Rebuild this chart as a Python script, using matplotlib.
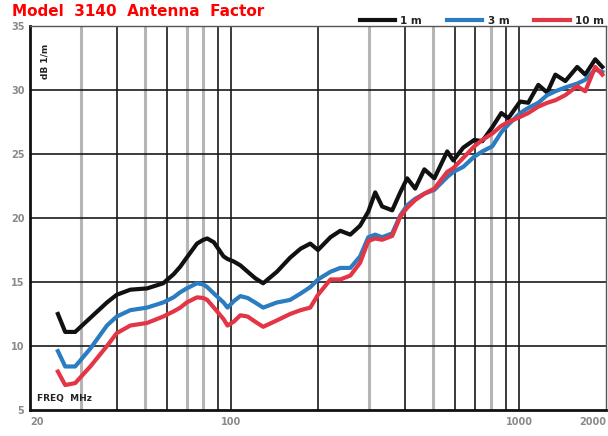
import matplotlib
matplotlib.use("Agg")
import matplotlib.pyplot as plt
from matplotlib.lines import Line2D

# ---- data ----
freq_mhz = [25, 26.5, 28.7, 32.4, 37, 40, 44.6, 51, 58, 63, 66.5, 70, 76, 80, 82.5, 87,
            94, 97, 102, 107.5, 114, 121, 129, 144, 160, 174, 188, 200, 221, 239, 259,
            280, 299, 316, 334, 362, 386, 408, 435, 468, 507, 562, 590, 639, 698, 744,
            806, 866, 916, 1007, 1074, 1164, 1250, 1334, 1445, 1589, 1694, 1835, 1942]

af_1m = [12.5, 11.1, 11.1, 12.2, 13.4, 14.0, 14.4, 14.5, 14.9, 15.6, 16.2, 16.9, 18.0,
         18.3, 18.4, 18.1, 17.0, 16.8, 16.6, 16.3, 15.8, 15.3, 14.9, 15.8, 16.9, 17.6,
         18.0, 17.5, 18.5, 19.0, 18.7, 19.4, 20.5, 22.0, 20.9, 20.6, 22.0, 23.1, 22.3,
         23.8, 23.1, 25.2, 24.5, 25.5, 26.1, 26.0, 27.1, 28.2, 27.8, 29.1, 29.0, 30.4,
         29.8, 31.2, 30.7, 31.8, 31.2, 32.4, 31.8]

af_3m = [9.6, 8.4, 8.4, 9.8, 11.6, 12.3, 12.8, 13.0, 13.4, 13.8, 14.2, 14.5, 14.9,
         14.8, 14.6, 14.1, 13.4, 13.0, 13.5, 13.9, 13.75, 13.4, 13.0, 13.4, 13.6, 14.1,
         14.6, 15.2, 15.8, 16.1, 16.1, 17.0, 18.5, 18.7, 18.5, 18.8, 20.2, 21.0, 21.5,
         21.9, 22.2, 23.2, 23.6, 24.0, 24.8, 25.2, 25.6, 26.7, 27.3, 28.2, 28.6, 29.0,
         29.6, 29.9, 30.2, 30.5, 30.8, 31.6, 31.4]

af_10m = [8.0, 6.95, 7.1, 8.4, 10.0, 11.0, 11.6, 11.8, 12.3, 12.7, 13.0, 13.4, 13.8,
          13.75, 13.6, 13.0, 12.1, 11.6, 11.9, 12.4, 12.3, 11.9, 11.5, 12.0, 12.5, 12.8,
          13.0, 14.0, 15.2, 15.2, 15.5, 16.5, 18.2, 18.4, 18.3, 18.6, 20.1, 20.8, 21.4,
          21.9, 22.3, 23.6, 23.9, 24.7, 25.6, 26.1, 26.6, 27.2, 27.5, 27.9, 28.2, 28.7,
          29.0, 29.2, 29.6, 30.3, 29.9, 31.8, 31.2]

series_labels = ["1 m", "3 m", "10 m"]
series_colors = ["#111111", "#2b7cc0", "#e33545"]

grid_freqs = [30, 40, 50, 60, 70, 80, 90, 100, 200, 300, 400, 500, 600, 700, 800, 900, 1000]
grid_dark = [False, True, False, True, False, False, True, True, True, False, True, False,
             True, True, False, True, True]

y_ticks = [5, 10, 15, 20, 25, 30, 35]
x_ticks = [20, 100, 1000, 2000]
x_tick_labels = ["20", "100", "1000", "2000"]

# ---- figure ----
fig = plt.figure(figsize=(6.08, 4.36), dpi=100)
ax = fig.add_axes([30 / 608, 26 / 436, 576 / 608, 384 / 436])

ax.set_xscale("log")
ax.set_xlim(20, 2000)
ax.set_ylim(5, 35)

for f, dark in zip(grid_freqs, grid_dark):
    if dark:
        ax.axvline(f, color="#1a1a1a", lw=1.2, zorder=1)
    else:
        ax.axvline(f, color="#b5b5b5", lw=2.2, zorder=1)
for yv in y_ticks[1:-1]:
    ax.axhline(yv, color="#1a1a1a", lw=1.2, zorder=1)

for vals, lab, col in zip([af_1m, af_3m, af_10m], series_labels, series_colors):
    ax.plot(freq_mhz, vals, color=col, lw=3.0, label=lab, zorder=3,
            solid_joinstyle="round")

ax.set_yticks(y_ticks)
ax.set_yticklabels([str(v) for v in y_ticks])
ax.set_xticks(x_ticks)
ax.set_xticklabels(x_tick_labels)
ax.minorticks_off()
ax.tick_params(axis="both", length=0, labelsize=7, labelcolor="#8a8a8a")
ax.tick_params(axis="y", pad=4)
ax.tick_params(axis="x", pad=5)
xl = ax.get_xticklabels()
xl[0].set_ha("left")
xl[-1].set_ha("right")
for t in ax.get_xticklabels() + ax.get_yticklabels():
    t.set_fontweight("bold")

for s in ["left", "bottom"]:
    ax.spines[s].set_linewidth(2.0)
    ax.spines[s].set_color("#111111")
for s in ["top", "right"]:
    ax.spines[s].set_linewidth(1.0)
    ax.spines[s].set_color("#555555")

ax.text(0.018, 0.955, "dB 1/m", transform=ax.transAxes, rotation=90, ha="left", va="top",
        fontsize=6.5, fontweight="bold", color="#222222")
ax.text(0.012, 0.018, "FREQ  MHz", transform=ax.transAxes, ha="left", va="bottom",
        fontsize=6.5, fontweight="bold", color="#222222")

fig.text(12 / 608, 1 - 12 / 436, "Model  3140  Antenna  Factor", ha="left", va="center",
         fontsize=11, color="#ff0000", fontweight="semibold")

handles = [Line2D([0], [0], color=c, lw=3.0) for c in series_colors]
leg = ax.legend(handles, series_labels, loc="lower right", bbox_to_anchor=(1.0, 0.995),
                ncol=3, frameon=False, fontsize=7.5, handlelength=3.4, handletextpad=0.5,
                columnspacing=2.4, borderaxespad=0.0, borderpad=0.2)
for t in leg.get_texts():
    t.set_fontweight("bold")
    t.set_color("#222222")

fig.savefig("out.png", dpi=100)
